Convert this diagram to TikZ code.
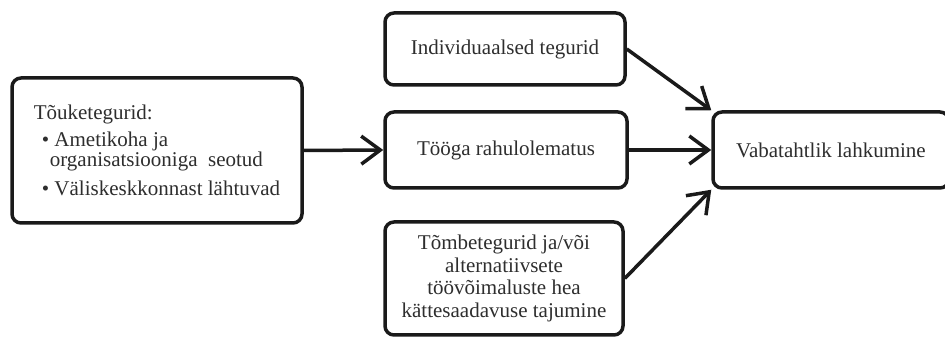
\documentclass[tikz,border=0pt]{standalone}
\usepackage{fontspec}
\setmainfont{Liberation Serif}
\usetikzlibrary{arrows.meta}
\definecolor{linec}{HTML}{1A1A1A}
\definecolor{textc}{HTML}{2E2E2E}

\begin{document}
\begin{tikzpicture}[x=1pt, y=1pt,
    every node/.style={draw=linec, line width=3.5pt, rounded corners=9pt, fill=white, text=textc, align=center, font=\fontsize{21}{22.5}\selectfont},
    arr/.style={draw=linec, line width=3.5pt, -{Straight Barb[length=19pt,width=28pt]}}]
    \useasboundingbox (0,0) rectangle (945,339);
    \clip (0,0) rectangle (945,339);
    \node[minimum width=290pt, minimum height=145pt, align=left, font=\fontsize{21}{18}\selectfont] (T) at (157,188.5)
        {Tõuketegurid:\\[6pt]
         \hspace*{8pt}\textbullet\ Ametikoha ja\\
         \hspace*{16pt}organisatsiooniga\ \ seotud\\[9pt]
         \hspace*{8pt}\textbullet\ Väliskeskkonnast lähtuvad};
    \node[minimum width=240pt, minimum height=72pt] (I) at (505,290) {Individuaalsed tegurid};
    \node[minimum width=242pt, minimum height=76pt] (R) at (506,189) {Tööga rahulolematus};
    \node[minimum width=238pt, minimum height=113pt] (P) at (504,60.5)
        {Tõmbetegurid ja/või\\ alternatiivsete\\ töövõimaluste hea\\ kättesaadavuse tajumine};
    \node[minimum width=236pt, minimum height=76pt] (V) at (831,189) {Vabatahtlik lahkumine};
    \draw[arr] (T.east) -- (R.west);
    \draw[arr] (I.east) -- (V.north west);
    \draw[arr] (R.east) -- (V.west);
    \draw[arr] (P.east) -- (V.south west);
\end{tikzpicture}
\end{document}
